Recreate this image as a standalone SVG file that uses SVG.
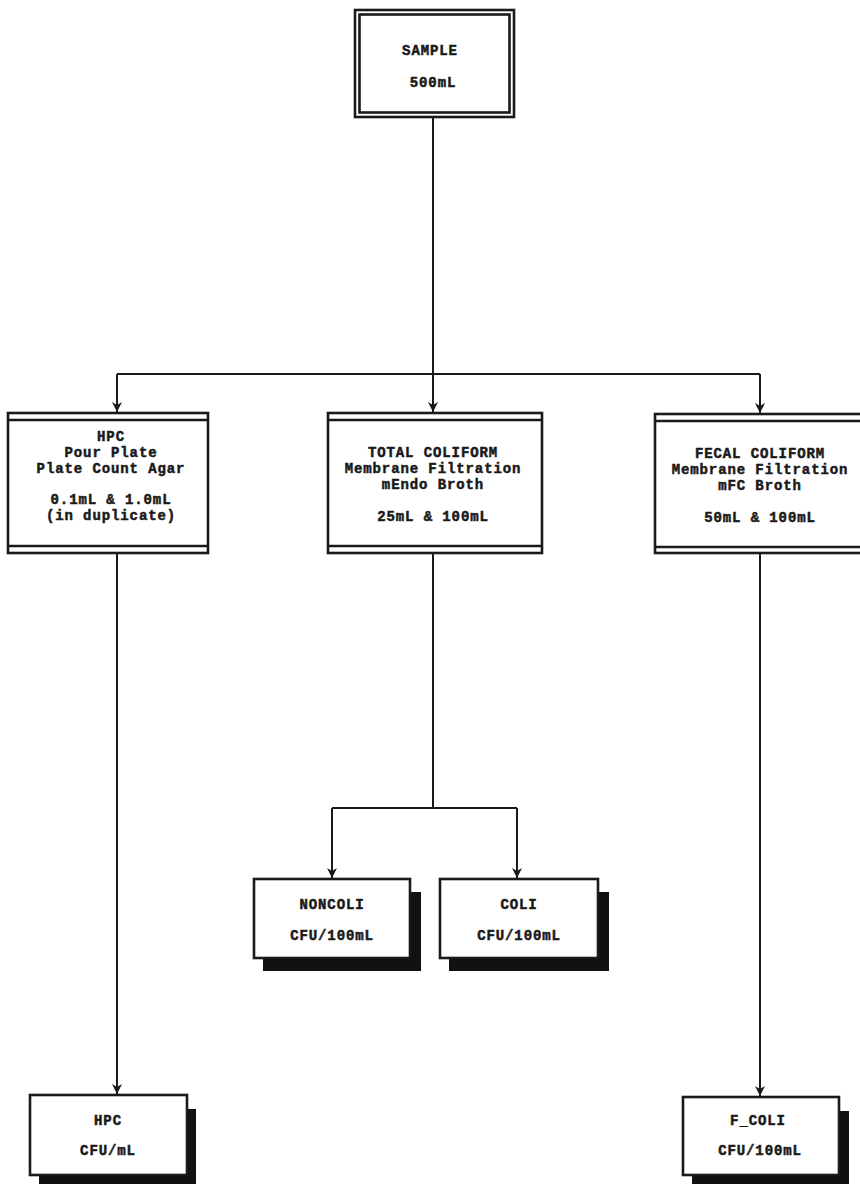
<svg xmlns="http://www.w3.org/2000/svg" width="860" height="1184" viewBox="0 0 860 1184">
<defs>
<style>
.box{fill:#fff;stroke:#1a1a1a;stroke-width:2.6}
.dl{stroke:#1a1a1a;stroke-width:2.6;fill:none}
.sh{fill:#111}
.ln{stroke:#1a1a1a;stroke-width:2;fill:none}
text{font-family:"Liberation Mono","DejaVu Sans Mono",monospace;font-weight:bold;font-size:14px;letter-spacing:0.9px;fill:#1a1a1a;stroke:#1a1a1a;stroke-width:0.5;text-anchor:middle}
</style>
<marker id="av" viewBox="0 0 10 12" refX="5" refY="12" markerWidth="10" markerHeight="12" markerUnits="userSpaceOnUse" orient="0">
<path d="M0,2 L5,12 L10,2 L5,5 Z" fill="#1a1a1a"/>
</marker>
</defs>
<rect width="860" height="1184" fill="#fff"/>
<g id="connectors">
<path class="ln" d="M433,117 V412" marker-end="url(#av)"/>
<path class="ln" d="M117,374 H760"/>
<path class="ln" d="M117,374 V412" marker-end="url(#av)"/>
<path class="ln" d="M760,374 V413" marker-end="url(#av)"/>
<path class="ln" d="M117,553 V1094" marker-end="url(#av)"/>
<path class="ln" d="M433,553 V808"/>
<path class="ln" d="M332,808 H517"/>
<path class="ln" d="M332,808 V878" marker-end="url(#av)"/>
<path class="ln" d="M517,808 V878" marker-end="url(#av)"/>
<path class="ln" d="M760,553 V1096" marker-end="url(#av)"/>
</g>
<g id="sample">
<rect class="box" x="355" y="10" width="159" height="107"/>
<rect class="dl" x="359.5" y="14.5" width="150" height="98"/>
<text x="430" y="55">SAMPLE</text>
<text x="433" y="87">500mL</text>
</g>
<g id="hpc">
<rect class="box" x="8" y="413" width="200" height="140"/>
<path class="dl" d="M8,420 H208 M8,546 H208"/>
<text x="111" y="441">HPC</text>
<text x="111" y="457">Pour Plate</text>
<text x="111" y="473">Plate Count Agar</text>
<text x="111" y="504">0.1mL &amp; 1.0mL</text>
<text x="111" y="520">(in duplicate)</text>
</g>
<g id="total-coliform">
<rect class="box" x="328" y="413" width="214" height="140"/>
<path class="dl" d="M328,420 H542 M328,546 H542"/>
<text x="433" y="457">TOTAL COLIFORM</text>
<text x="433" y="473">Membrane Filtration</text>
<text x="433" y="489">mEndo Broth</text>
<text x="433" y="521">25mL &amp; 100mL</text>
</g>
<g id="fecal-coliform">
<rect class="box" x="655" y="414" width="215" height="139"/>
<path class="dl" d="M655,421 H870 M655,547 H870"/>
<text x="760" y="458">FECAL COLIFORM</text>
<text x="760" y="474">Membrane Filtration</text>
<text x="760" y="490">mFC Broth</text>
<text x="760" y="522">50mL &amp; 100mL</text>
</g>
<g id="noncoli">
<rect class="sh" x="263" y="892" width="158" height="79"/>
<rect class="box" x="254" y="879" width="156" height="79"/>
<text x="332" y="909">NONCOLI</text>
<text x="332" y="940">CFU/100mL</text>
</g>
<g id="coli">
<rect class="sh" x="449" y="892" width="160" height="79"/>
<rect class="box" x="440" y="879" width="158" height="79"/>
<text x="519" y="909">COLI</text>
<text x="519" y="940">CFU/100mL</text>
</g>
<g id="hpc-result">
<rect class="sh" x="39" y="1109" width="157" height="80"/>
<rect class="box" x="30" y="1095" width="157" height="80"/>
<text x="108" y="1125">HPC</text>
<text x="108" y="1155">CFU/mL</text>
</g>
<g id="f-coli">
<rect class="sh" x="692" y="1111" width="157" height="80"/>
<rect class="box" x="683" y="1097" width="156" height="78"/>
<text x="758" y="1125">F_COLI</text>
<text x="760" y="1155">CFU/100mL</text>
</g>
</svg>
